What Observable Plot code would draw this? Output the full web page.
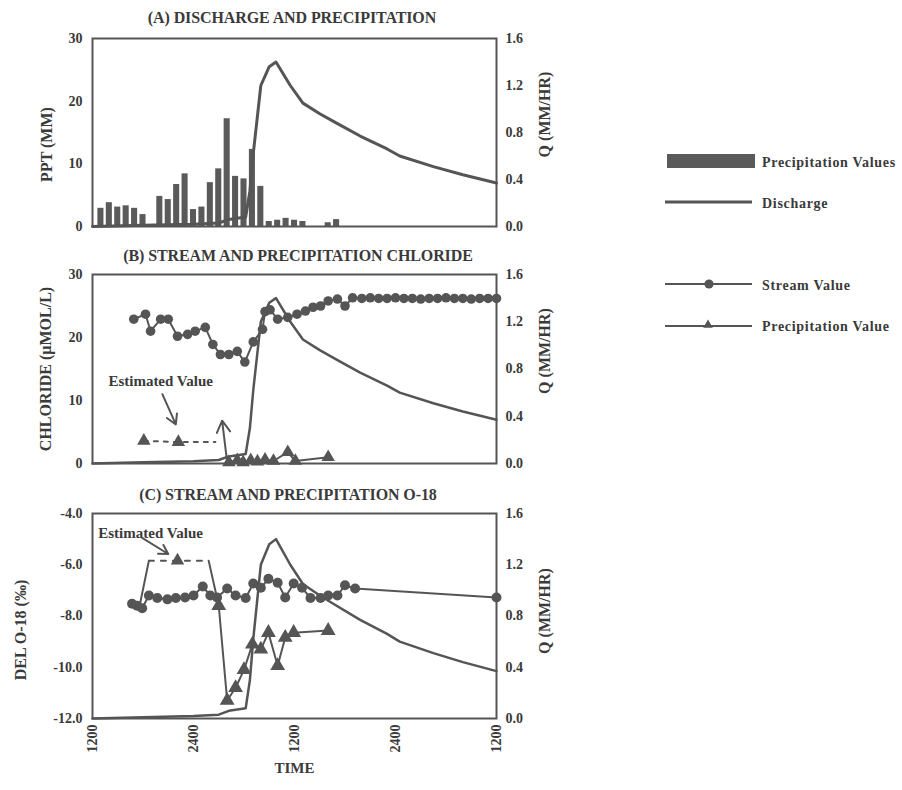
<!DOCTYPE html>
<html>
<head>
<meta charset="utf-8">
<script src="https://cdn.jsdelivr.net/npm/d3@7"></script>
<script src="https://cdn.jsdelivr.net/npm/@observablehq/plot@0.6"></script>
<style>
  body { margin: 0; background: #fff; }
  #wrap { position: relative; width: 902px; height: 790px; font-family: "Liberation Serif", "Times New Roman", serif; color: #3a3a3a; overflow: hidden; }
  .panel { position: absolute; left: 0; }
  .title { position: absolute; left: 0; width: 584px; text-align: center; font-weight: bold; font-size: 16px; line-height: 18px; white-space: nowrap; letter-spacing: -0.1px; }
  #legend { position: absolute; left: 640px; top: 140px; }
</style>
</head>
<body>
<div id="wrap">
  <div class="title" style="top:9px">(A) DISCHARGE AND PRECIPITATION</div>
  <div class="title" style="top:247px;left:6px">(B) STREAM AND PRECIPITATION CHLORIDE</div>
  <div class="title" style="top:486px;left:-4px">(C) STREAM AND PRECIPITATION O-18</div>
  <div id="pA" class="panel" style="top:0px"></div>
  <div id="pB" class="panel" style="top:240px"></div>
  <div id="pC" class="panel" style="top:480px"></div>
  <div id="legend"></div>
</div>
<script>
// ---------- DATA (hours since 1200 on day 1) ----------
const timeTicks = [0, 12, 24, 36, 48];
const timeTickLabels = ["1200", "2400", "1200", "2400", "1200"];

// (A) hourly precipitation (mm)
const pptHour = [1, 2, 3, 4, 5, 6, 8, 9, 10, 11, 12, 13, 14, 15, 16, 17, 18, 19, 20, 21, 22, 23, 24, 25, 28, 29];
const pptMM   = [2.9, 3.8, 3.1, 3.3, 2.9, 1.9, 4.8, 4.3, 6.7, 8.4, 2.7, 3.1, 7.0, 9.2, 17.2, 8.0, 7.6, 12.3, 6.4, 0.8, 1.0, 1.3, 1.0, 0.8, 0.6, 1.1];

// discharge Q (mm/hr)
const qHour = [0, 6, 12, 15, 16.2, 18.2, 18.7, 19.1, 20, 21, 21.8, 23.5, 25, 27, 29, 31.8, 35, 36.5, 40.5, 44, 48];
const qMMHR = [0.0, 0.01, 0.02, 0.03, 0.06, 0.08, 0.30, 0.62, 1.20, 1.36, 1.40, 1.20, 1.05, 0.96, 0.88, 0.77, 0.66, 0.60, 0.51, 0.44, 0.37];

// (B) stream chloride (umol/L)
const clStreamHour = [4.9, 6.3, 6.9, 8.1, 9.0, 10.1, 11.3, 12.2, 13.4, 14.3, 15.2, 16.2, 17.2, 18.1, 19.1, 20.2, 20.5, 21.1, 22.0, 23.2, 24.3, 25.3, 26.2, 27.1, 28.0, 29.1, 30.0, 30.9,
  32, 33, 34, 35, 36, 37, 38, 39, 40, 41, 42, 43, 44, 45, 46, 47, 48];
const clStreamVal  = [22.9, 23.7, 21.0, 22.9, 22.9, 20.2, 20.5, 21.0, 21.6, 18.9, 17.3, 17.3, 17.8, 16.1, 19.3, 21.3, 24.1, 24.4, 22.9, 23.2, 23.7, 24.2, 24.8, 25.0, 25.8, 26.1, 25.0, 26.3,
  26.2, 26.3, 26.2, 26.2, 26.3, 26.2, 26.2, 26.1, 26.2, 26.2, 26.3, 26.2, 26.2, 26.1, 26.2, 26.2, 26.2];
// precipitation chloride (estimated + measured)
const clPrecipEstHour = [6.1, 10.2];
const clPrecipEstVal  = [3.6, 3.4];
const clPrecipDashHour = [6.1, 10.2, 14.6];
const clPrecipDashVal  = [3.6, 3.4, 3.4];
const clPrecipHour = [16.2, 17.2, 17.9, 18.8, 19.6, 20.5, 21.5, 23.2, 24.1, 28.0];
const clPrecipVal  = [0.2, 0.5, 0.2, 0.5, 0.3, 0.6, 0.4, 1.8, 0.4, 1.0];
const clUpArrow = [{h1: 16.0, v1: 0.2, h2: 15.4, v2: 6.8}];
const clNote = [{h: 8.1, v: 13.0, text: "Estimated Value"}];
const clNoteArrow = [{h1: 8.3, v1: 11.0, h2: 9.9, v2: 6.2}];

// (C) stream O-18 (per mil)
const o18StreamHour = [4.7, 5.3, 5.9, 6.7, 7.7, 8.9, 9.9, 11.0, 12.0, 13.1, 14.0, 14.8, 16.0, 17.0, 18.2, 19.1, 20.0, 20.9, 22.0, 22.9, 23.9, 24.9, 25.9, 27.1, 28.0, 29.1, 30.0, 31.2, 48.0];
const o18StreamVal  = [-7.52, -7.6, -7.7, -7.2, -7.3, -7.35, -7.3, -7.28, -7.2, -6.85, -7.2, -7.28, -6.93, -7.2, -7.3, -6.73, -6.9, -6.55, -6.7, -7.28, -6.73, -6.9, -7.3, -7.3, -7.2, -7.2, -6.8, -6.93, -7.28];
// precipitation O-18
const o18LeadHour = [5.6, 6.7];
const o18LeadVal  = [-7.6, -5.84];
const o18DashHour = [6.7, 10.1, 13.8];
const o18DashVal  = [-5.84, -5.84, -5.84];
const o18EstHour = [10.1];
const o18EstVal  = [-5.84];
const o18PrecipHour = [13.8, 15.0, 16.0, 17.0, 18.0, 19.0, 20.0, 20.9, 22.0, 22.9, 23.9, 28.0];
const o18PrecipVal  = [-5.84, -7.6, -11.3, -10.8, -10.1, -9.1, -9.3, -8.65, -9.94, -8.84, -8.65, -8.57];
const o18PrecipMarkerFrom = 1; // first point is the end of the estimated segment (no marker)
const o18Note = [{h: 6.9, v: -4.78, text: "Estimated Value"}];
const o18NoteArrow = [{h1: 5.9, v1: -4.95, h2: 9.0, v2: -5.58}];

// axis ticks
const pptTicks = [0, 10, 20, 30];
const clTicks = [0, 10, 20, 30];
const o18Ticks = [-12, -10, -8, -6, -4];
const qTicks = [0, 0.4, 0.8, 1.2, 1.6];

// legend
const legendItems = ["Precipitation Values", "Discharge", "Stream Value", "Precipitation Value"];

// ---------- HELPERS ----------
const INK = "#555";
const TXT = "#3a3a3a";
const zip = (xs, ys) => xs.map((h, i) => ({h, v: ys[i]}));
const qData = zip(qHour, qMMHR);

const baseStyle = {fontFamily: '"Liberation Serif", "Times New Roman", serif', fontSize: "14px", fontWeight: "bold", color: TXT, background: "transparent", overflow: "visible"};
const common = {width: 600, marginLeft: 92, marginRight: 104, style: baseStyle};

function rightAxis(toY) {
  return Plot.axisY(qTicks.map(toY), {anchor: "right", tickSize: 0, tickPadding: 9, tickFormat: (d, i) => qTicks[i].toFixed(1), label: null});
}
function sideLabel(text, side, dx, dy, spacing) {
  return Plot.text([text], {frameAnchor: side, rotate: -90, dx, dy, textAnchor: "middle", lineAnchor: "middle",
    fontSize: 16, fontWeight: "bold", fill: TXT, letterSpacing: spacing});
}
function note(data) {
  return Plot.text(data, {x: "h", y: "v", text: "text", fontSize: 15, fontWeight: "bold", fill: TXT, letterSpacing: 0.6});
}

// ---------- PANEL A ----------
const kA = 30 / 1.6;
const plotA = Plot.plot({
  ...common, height: 240, marginTop: 38, marginBottom: 14,
  x: {domain: [0, 48], axis: null},
  y: {domain: [0, 30], axis: null},
  marks: [
    Plot.rectY(zip(pptHour, pptMM), {x1: d => d.h - 0.36, x2: d => d.h + 0.36, y: "v", fill: "#5a5a5a"}),
    Plot.line(qData, {x: "h", y: d => d.v * kA, stroke: INK, strokeWidth: 3}),
    Plot.frame({stroke: INK, strokeWidth: 2}),
    Plot.axisY(pptTicks, {anchor: "left", tickSize: 0, tickPadding: 10, tickFormat: d => String(d), label: null}),
    rightAxis(q => q * kA),
    sideLabel("PPT (MM)", "left", -46, 12, 3),
    sideLabel("Q (MM/HR)", "right", 48, -18, 1)
  ]
});
document.getElementById("pA").append(plotA);

// ---------- PANEL B ----------
const kB = 30 / 1.6;
const plotB = Plot.plot({
  ...common, height: 240, marginTop: 34, marginBottom: 17,
  x: {domain: [0, 48], axis: null},
  y: {domain: [0, 30], axis: null},
  marks: [
    Plot.line(qData, {x: "h", y: d => d.v * kB, stroke: INK, strokeWidth: 2.5}),
    Plot.line(zip(clStreamHour, clStreamVal), {x: "h", y: "v", stroke: INK, strokeWidth: 2}),
    Plot.dot(zip(clStreamHour, clStreamVal), {x: "h", y: "v", r: 4.8, fill: INK}),
    Plot.line(zip(clPrecipDashHour, clPrecipDashVal), {x: "h", y: "v", stroke: INK, strokeWidth: 2, strokeDasharray: "4,6"}),
    Plot.dot(zip(clPrecipEstHour, clPrecipEstVal), {x: "h", y: "v", symbol: "triangle", r: 5, fill: INK}),
    Plot.arrow(clUpArrow, {x1: "h1", y1: "v1", x2: "h2", y2: "v2", stroke: INK, strokeWidth: 2, headLength: 10}),
    Plot.line(zip(clPrecipHour, clPrecipVal), {x: "h", y: "v", stroke: INK, strokeWidth: 2}),
    Plot.dot(zip(clPrecipHour, clPrecipVal), {x: "h", y: "v", symbol: "triangle", r: 5, fill: INK}),
    note(clNote),
    Plot.arrow(clNoteArrow, {x1: "h1", y1: "v1", x2: "h2", y2: "v2", stroke: INK, strokeWidth: 2, headLength: 9}),
    Plot.frame({stroke: INK, strokeWidth: 2}),
    Plot.axisY(clTicks, {anchor: "left", tickSize: 0, tickPadding: 10, tickFormat: d => String(d), label: null}),
    rightAxis(q => q * kB),
    sideLabel("CHLORIDE (\u00B5MOL/L)", "left", -47, 0, 0.3),
    sideLabel("Q (MM/HR)", "right", 48, -18, 1)
  ]
});
document.getElementById("pB").append(plotB);

// ---------- PANEL C ----------
const qToC = q => -12 + q * (8 / 1.6);
const plotC = Plot.plot({
  ...common, height: 310, marginTop: 33, marginBottom: 72,
  x: {domain: [0, 48]},
  y: {domain: [-12, -4], axis: null},
  marks: [
    Plot.line(qData, {x: "h", y: d => qToC(d.v), stroke: INK, strokeWidth: 2.5}),
    Plot.line(zip(o18StreamHour, o18StreamVal), {x: "h", y: "v", stroke: INK, strokeWidth: 2}),
    Plot.dot(zip(o18StreamHour, o18StreamVal), {x: "h", y: "v", r: 5, fill: INK}),
    Plot.line(zip(o18LeadHour, o18LeadVal), {x: "h", y: "v", stroke: INK, strokeWidth: 2}),
    Plot.line(zip(o18DashHour, o18DashVal), {x: "h", y: "v", stroke: INK, strokeWidth: 2, strokeDasharray: "5,7"}),
    Plot.dot(zip(o18EstHour, o18EstVal), {x: "h", y: "v", symbol: "triangle", r: 5, fill: INK}),
    Plot.line(zip(o18PrecipHour, o18PrecipVal), {x: "h", y: "v", stroke: INK, strokeWidth: 2}),
    Plot.dot(zip(o18PrecipHour, o18PrecipVal).slice(o18PrecipMarkerFrom), {x: "h", y: "v", symbol: "triangle", r: 5.5, fill: INK}),
    note(o18Note),
    Plot.arrow(o18NoteArrow, {x1: "h1", y1: "v1", x2: "h2", y2: "v2", stroke: INK, strokeWidth: 2, headLength: 9}),
    Plot.frame({stroke: INK, strokeWidth: 2}),
    Plot.axisY(o18Ticks, {anchor: "left", tickSize: 0, tickPadding: 10, tickFormat: d => d.toFixed(1), label: null}),
    rightAxis(qToC),
    Plot.axisX(timeTicks, {anchor: "bottom", tickSize: 0, tickPadding: 6, tickRotate: -90, tickFormat: (d, i) => timeTickLabels[i], label: null}),
    sideLabel("DEL O-18 (\u2030)", "left", -72, 14, 1),
    sideLabel("Q (MM/HR)", "right", 48, -5, 1),
    Plot.text(["TIME"], {frameAnchor: "bottom", dy: 54, fontSize: 15, fontWeight: "bold", fill: TXT})
  ]
});
document.getElementById("pC").append(plotC);

// ---------- LEGEND ----------
const lg = d3.select("#legend").append("svg").attr("width", 262).attr("height", 200)
  .style("font-family", '"Liberation Serif", "Times New Roman", serif').style("font-weight", "bold").style("font-size", "14px").style("letter-spacing", "0.7px");
const ox = -640, oy = -140;
const rows = [22, 63, 145, 186];
lg.append("rect").attr("x", 667 + ox).attr("y", 154 + oy).attr("width", 88).attr("height", 14).attr("fill", "#5a5a5a");
lg.append("line").attr("x1", 665 + ox).attr("x2", 752 + ox).attr("y1", 202 + oy).attr("y2", 202 + oy).attr("stroke", INK).attr("stroke-width", 3);
lg.append("line").attr("x1", 665 + ox).attr("x2", 752 + ox).attr("y1", 284 + oy).attr("y2", 284 + oy).attr("stroke", INK).attr("stroke-width", 2);
lg.append("circle").attr("cx", 709 + ox).attr("cy", 284 + oy).attr("r", 4.6).attr("fill", INK);
lg.append("line").attr("x1", 665 + ox).attr("x2", 752 + ox).attr("y1", 326 + oy).attr("y2", 326 + oy).attr("stroke", INK).attr("stroke-width", 2);
lg.append("path").attr("d", d3.symbol(d3.symbolTriangle, 40)()).attr("transform", `translate(${708 + ox},${325 + oy})`).attr("fill", INK);
legendItems.forEach((t, i) => {
  lg.append("text").attr("x", 762 + ox).attr("y", rows[i]).attr("dy", "0.35em").attr("fill", TXT).text(t);
});
</script>
</body>
</html>
